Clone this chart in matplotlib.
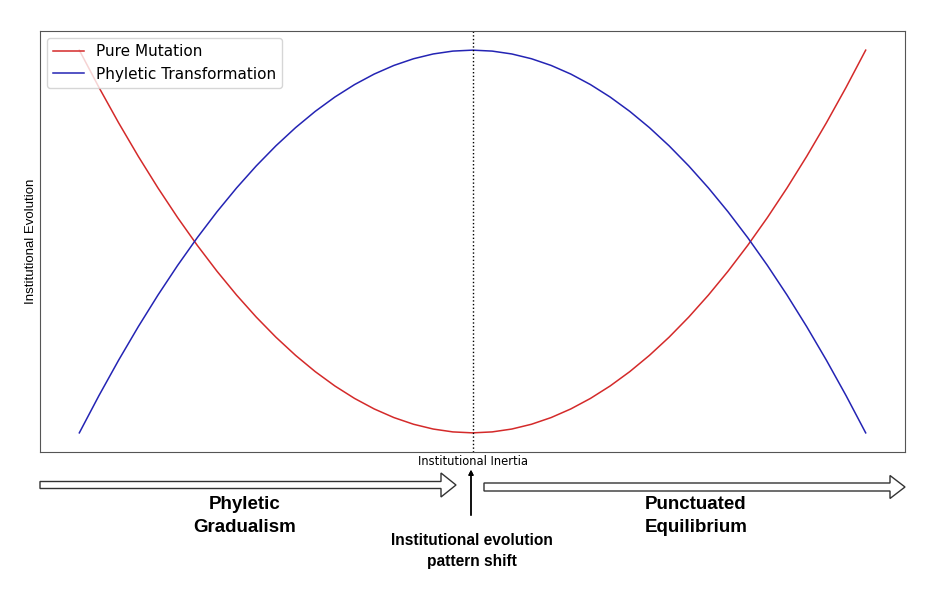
import numpy as np
import matplotlib
matplotlib.use('Agg')
import matplotlib.pyplot as plt
from matplotlib.patches import FancyArrow

# values (x axis has no ticks, centred on the shift point)
x_vals = [-10, -9.5, -9, -8.5, -8, -7.5, -7, -6.5, -6, -5.5, -5, -4.5, -4, -3.5, -3, -2.5, -2, -1.5, -1, -0.5,
          0, 0.5, 1, 1.5, 2, 2.5, 3, 3.5, 4, 4.5, 5, 5.5, 6, 6.5, 7, 7.5, 8, 8.5, 9, 9.5, 10]
pure_mutation = [100, 90.25, 81, 72.25, 64, 56.25, 49, 42.25, 36, 30.25, 25, 20.25, 16, 12.25, 9, 6.25, 4, 2.25, 1, 0.25,
                 0, 0.25, 1, 2.25, 4, 6.25, 9, 12.25, 16, 20.25, 25, 30.25, 36, 42.25, 49, 56.25, 64, 72.25, 81, 90.25, 100]
phyletic_transformation = [0, 9.75, 19, 27.75, 36, 43.75, 51, 57.75, 64, 69.75, 75, 79.75, 84, 87.75, 91, 93.75, 96, 97.75, 99, 99.75,
                           100, 99.75, 99, 97.75, 96, 93.75, 91, 87.75, 84, 79.75, 75, 69.75, 64, 57.75, 51, 43.75, 36, 27.75, 19, 9.75, 0]
shift_x = 0

W, H = 939, 595


def fx(px):
    return px / W


def fy(py):
    return 1 - py / H


fig = plt.figure(figsize=(9.39, 5.95), dpi=100)
ax = fig.add_axes([fx(40), fy(452), 865 / W, 421 / H])

ax.plot(x_vals, pure_mutation, color='#d42a2a', lw=1.1, label='Pure Mutation')
ax.plot(x_vals, phyletic_transformation, color='#2424b4', lw=1.1, label='Phyletic Transformation')
ax.axvline(shift_x, color='black', ls=':', lw=1)

ax.set_xticks([])
ax.set_yticks([])
for s in ax.spines.values():
    s.set_color('#555555')
ax.set_xlabel('Institutional Inertia', fontsize=8.3, labelpad=2)
ax.set_ylabel('Institutional Evolution', fontsize=9.5, family='Liberation Sans', labelpad=2)
ax.legend(loc='upper left', fontsize=11, borderaxespad=0.45)

# hollow arrows below the axes
left_arrow = FancyArrow(fx(40), fy(485), fx(456) - fx(40), 0, width=7 / H, head_width=24 / H,
                        head_length=15 / W, length_includes_head=True, transform=fig.transFigure,
                        facecolor='white', edgecolor='#333333', lw=1)
right_arrow = FancyArrow(fx(484), fy(487), fx(905) - fx(484), 0, width=8 / H, head_width=23 / H,
                         head_length=15 / W, length_includes_head=True, transform=fig.transFigure,
                         facecolor='white', edgecolor='#333333', lw=1)
fig.patches.extend([left_arrow, right_arrow])

fig.text(fx(245), fy(516), 'Phyletic\nGradualism', ha='center', va='center', fontsize=13.5,
         fontweight='bold', family='Liberation Sans', linespacing=1.45)
fig.text(fx(696), fy(516), 'Punctuated\nEquilibrium', ha='center', va='center', fontsize=13.5,
         fontweight='bold', family='Liberation Sans', linespacing=1.45)

fig.add_artist(plt.annotate('', xy=(fx(471), fy(467)), xytext=(fx(471), fy(518)),
                            xycoords='figure fraction', textcoords='figure fraction',
                            arrowprops=dict(arrowstyle='-|>', color='black', lw=1, mutation_scale=7)))
fig.text(fx(472), fy(551), 'Institutional evolution\npattern shift', ha='center', va='center',
         fontsize=11.2, fontweight='bold', family='Liberation Sans', linespacing=1.5)

plt.savefig('out.png', dpi=100)
